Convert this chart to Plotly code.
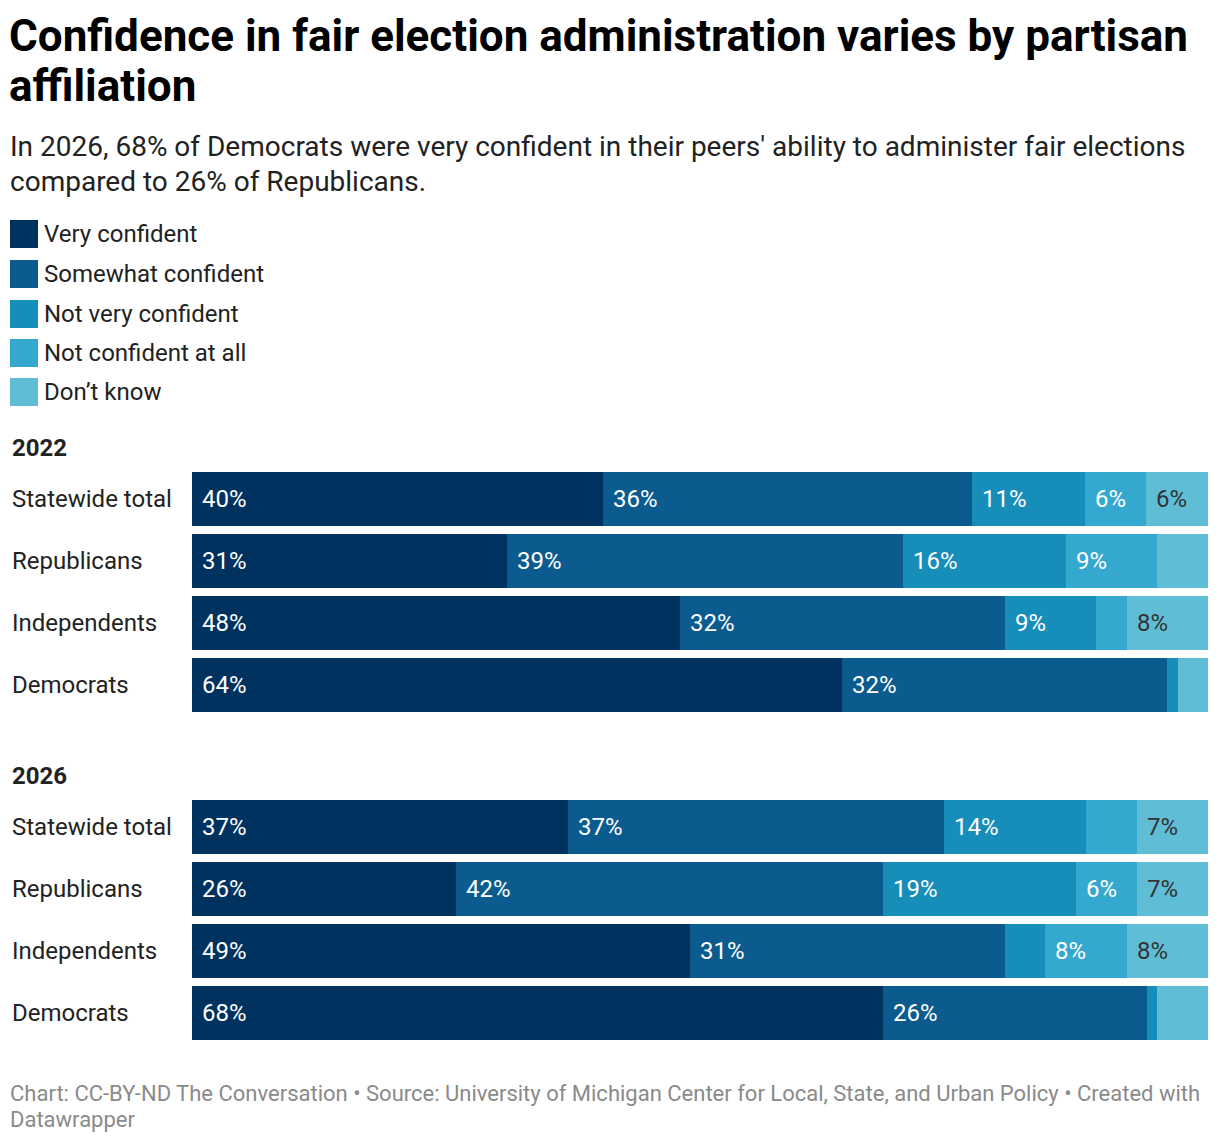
import plotly.graph_objects as go
from plotly.subplots import make_subplots

# ---------------- data ----------------
rows = ["Statewide total", "Republicans", "Independents", "Democrats"]
categories = ["Very confident", "Somewhat confident", "Not very confident",
              "Not confident at all", "Don’t know"]

very_2022 = [40, 31, 48, 64]
somewhat_2022 = [36, 39, 32, 32]
notvery_2022 = [11, 16, 9, 1]
notatall_2022 = [6, 9, 3, 0]
dontknow_2022 = [6, 5, 8, 3]

very_2026 = [37, 26, 49, 68]
somewhat_2026 = [37, 42, 31, 26]
notvery_2026 = [14, 19, 4, 1]
notatall_2026 = [5, 6, 8, 0]
dontknow_2026 = [7, 7, 8, 5]

years = ["2022", "2026"]
series = {
    "2022": [very_2022, somewhat_2022, notvery_2022, notatall_2022, dontknow_2022],
    "2026": [very_2026, somewhat_2026, notvery_2026, notatall_2026, dontknow_2026],
}

colors = ["#00325f", "#0b5b8e", "#178eba", "#35a8d0", "#5fbed5"]
label_colors = ["#ffffff", "#ffffff", "#ffffff", "#ffffff", "#333333"]
LABEL_MIN = 6

title_l1 = "Confidence in fair election administration varies by partisan"
title_l2 = "affiliation"
sub_l1 = "In 2026, 68% of Democrats were very confident in their peers' ability to administer fair elections"
sub_l2 = "compared to 26% of Republicans."
foot_l1 = "Chart: CC-BY-ND The Conversation • Source: University of Michigan Center for Local, State, and Urban Policy • Created with"
foot_l2 = "Datawrapper"

# ---------------- layout geometry (pixels) ----------------
W, H = 1220, 1142
L, R = 192, 12
T, B = 468, 98
PW = W - L - R
PH = H - T - B
GROUP_PX = 248


def px(x):
    return (x - L) / PW


def py(y):
    return (H - B - y) / PH


FONT = "Roboto, 'Open Sans', sans-serif"

fig = make_subplots(rows=2, cols=1, shared_xaxes=False, vertical_spacing=0)

for gi, yr in enumerate(years):
    vals = series[yr]
    for ci, cat in enumerate(categories):
        fig.add_trace(
            go.Bar(
                x=vals[ci], y=rows, orientation="h", name=cat,
                marker=dict(color=colors[ci], line=dict(width=0)),
                showlegend=False, hoverinfo="x+y+name",
            ),
            row=gi + 1, col=1,
        )
    # labels from normalized cumulative positions
    for ri, rname in enumerate(rows):
        tot = sum(vals[ci][ri] for ci in range(len(categories)))
        cum = 0.0
        for ci in range(len(categories)):
            v = vals[ci][ri]
            if v >= LABEL_MIN:
                fig.add_annotation(
                    x=cum / tot * 100, y=rname,
                    xref="x" if gi == 0 else "x2", yref="y" if gi == 0 else "y2",
                    text=f"{v}%", showarrow=False, xanchor="left", xshift=8,
                    font=dict(family=FONT, size=24, color=label_colors[ci]),
                )
            cum += v

fig.update_layout(barmode="stack", barnorm="percent", bargap=8 / 62)

d1_bottom = 1 - GROUP_PX / PH
fig.update_layout(
    yaxis=dict(domain=[d1_bottom, 1]),
    yaxis2=dict(domain=[0, GROUP_PX / PH]),
)
for ax in ["yaxis", "yaxis2"]:
    fig.layout[ax].update(
        type="category", categoryorder="array", categoryarray=rows,
        range=[3.5, -0.5], showticklabels=False, showgrid=False,
        zeroline=False, showline=False, ticks="", fixedrange=True,
    )
for ax in ["xaxis", "xaxis2"]:
    fig.layout[ax].update(range=[0, 100], showticklabels=False, showgrid=False,
                          zeroline=False, showline=False, ticks="", fixedrange=True)

# row labels
for gi in range(2):
    for rname in rows:
        fig.add_annotation(
            x=px(10), y=rname, xref="paper", yref="y" if gi == 0 else "y2",
            text=rname, showarrow=False, xanchor="left",
            font=dict(family=FONT, size=24, color="#222222"),
        )

ann = []


def text(x, y, s, size, color="#222222", bold=False):
    if bold:
        s = f"<b>{s}</b>"
    ann.append(dict(x=px(x), y=py(y), xref="paper", yref="paper", text=s,
                    showarrow=False, xanchor="left", yanchor="middle",
                    font=dict(family=FONT, size=size, color=color)))


text(7, 36, title_l1, 44, "#000000", True)
text(7, 86, title_l2, 44, "#000000", True)
text(8, 147, sub_l1, 28, "#222222")
text(8, 181, sub_l2, 28, "#222222")

leg_y = [234, 274, 314, 353, 392]
for ci, cat in enumerate(categories):
    fig.add_shape(type="rect", xref="paper", yref="paper",
                  x0=px(10), x1=px(38), y0=py(leg_y[ci] - 14), y1=py(leg_y[ci] + 14),
                  fillcolor=colors[ci], line=dict(width=0))
    text(42, leg_y[ci], cat, 24, "#222222")

text(10, 448, "2022", 24, "#222222", True)
text(10, 776, "2026", 24, "#222222", True)

text(8, 1093, foot_l1, 22, "#8a8a8a")
text(8, 1119, foot_l2, 22, "#8a8a8a")

for a in ann:
    fig.add_annotation(**a)

fig.update_layout(
    width=W, height=H,
    margin=dict(l=L, r=R, t=T, b=B, pad=0),
    paper_bgcolor="#ffffff", plot_bgcolor="#ffffff",
    font=dict(family=FONT, size=22, color="#222222"),
    showlegend=False,
)

fig.write_html("out.html", config={"displayModeBar": False},
               post_script="document.body.style.margin='0';document.body.style.overflow='hidden';")
